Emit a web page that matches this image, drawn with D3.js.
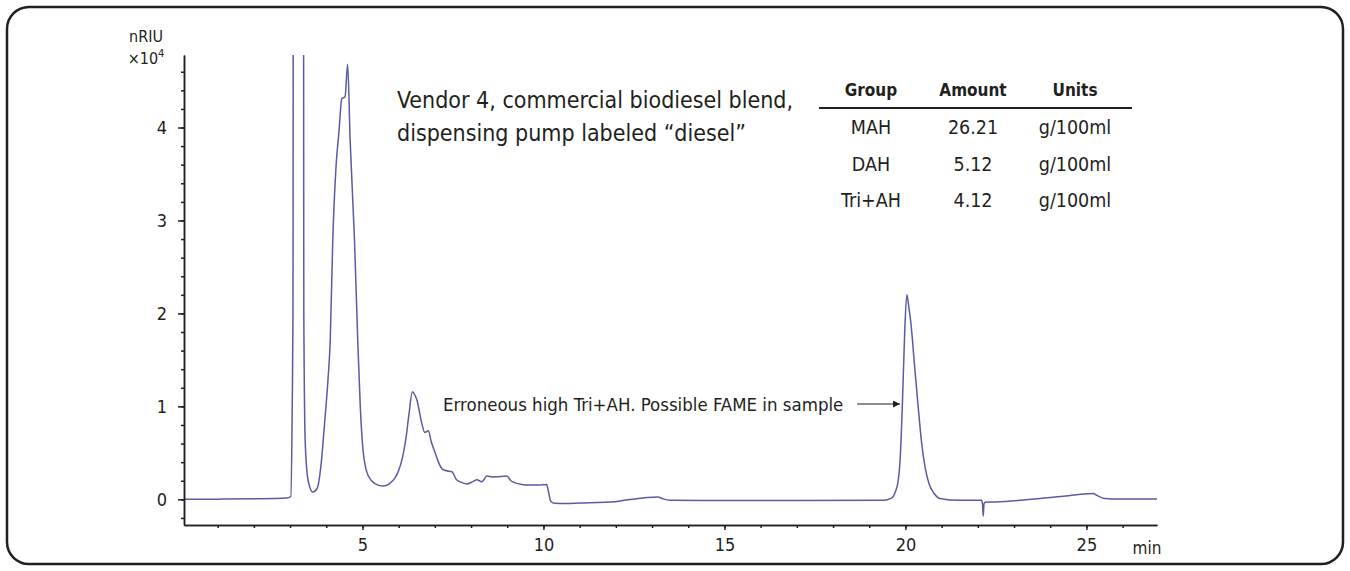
<!DOCTYPE html>
<html>
<head>
<meta charset="utf-8">
<script src="https://cdn.jsdelivr.net/npm/d3@7"></script>
<style>
  body { margin: 0; background: #fff; }
  svg text { font-family: "Liberation Sans Narrow", "DejaVu Sans Condensed", "Roboto", sans-serif; fill: #231f20; }
</style>
</head>
<body>
<svg id="chart" width="1350" height="571"></svg>
<script>
// retention time (min) and detector signal (nRIU x10^4)
const time = [
  0.07, 1.0, 2.0, 2.9, 3.02, 3.06, 3.08, 3.10, 3.36, 3.38, 3.42, 3.5, 3.63, 3.75, 3.85, 3.95,
  4.05, 4.11, 4.18, 4.27, 4.35, 4.43, 4.52, 4.59, 4.66, 4.78, 4.87, 4.94, 5.0, 5.1, 5.25, 5.45,
  5.58, 5.75, 5.9, 6.0, 6.1, 6.2, 6.28, 6.38, 6.45, 6.5, 6.64, 6.72, 6.82, 6.9, 7.0, 7.1,
  7.19, 7.3, 7.47, 7.6, 7.75, 7.88, 8.05, 8.16, 8.3, 8.44, 8.6, 8.72, 8.99, 9.1, 9.2, 9.4,
  9.6, 9.9, 10.09, 10.13, 10.2, 10.32, 10.6, 11.0, 11.98, 12.34, 13.16, 13.3, 13.52, 15.0, 17.0, 19.4,
  19.6, 19.72, 19.8, 19.85, 19.92, 19.98, 20.04, 20.1, 20.15, 20.25, 20.34, 20.45, 20.55, 20.65, 20.8, 20.95,
  21.5, 22.1, 22.13, 22.15, 22.17, 22.2, 22.5, 23.34, 24.3, 25.18, 25.3, 25.5, 25.9, 26.95
];
const signal = [
  0.0, 0.002, 0.006, 0.015, 0.03, 1.0, 2.0, 12, 12, 2.0, 0.6, 0.2, 0.078, 0.12, 0.35, 0.8,
  1.3, 1.71, 2.79, 3.58, 3.95, 4.31, 4.33, 4.68, 3.86, 2.79, 1.71, 1.0, 0.6, 0.32, 0.2, 0.15,
  0.143, 0.17, 0.23, 0.31, 0.44, 0.65, 0.9, 1.157, 1.12, 1.075, 0.817, 0.72, 0.738, 0.62, 0.51, 0.4,
  0.333, 0.31, 0.297, 0.21, 0.18, 0.165, 0.19, 0.21, 0.19, 0.25, 0.24, 0.243, 0.25, 0.2, 0.18, 0.16,
  0.154, 0.155, 0.16, 0.1, -0.02, -0.043, -0.045, -0.04, -0.025, -0.005, 0.025, 0.005, -0.01, -0.012, -0.012, -0.01,
  0.01, 0.08, 0.2, 0.4, 1.07, 1.8, 2.2, 2.05, 1.9, 1.45, 1.05, 0.6, 0.33, 0.17, 0.06, 0.01,
  -0.01, -0.01, -0.05, -0.18, -0.05, -0.03, -0.028, -0.005, 0.03, 0.064, 0.04, 0.01, 0.004, 0.004
];

const xMajor = [5, 10, 15, 20, 25];
const xMinor = d3.range(1, 27);
const yMajor = [0, 1, 2, 3, 4];
const yMinor = d3.range(-1, 24).map(i => +(i * 0.2).toFixed(1));

const tableHeader = ["Group", "Amount", "Units"];
const tableRows = [
  ["MAH", "26.21", "g/100ml"],
  ["DAH", "5.12", "g/100ml"],
  ["Tri+AH", "4.12", "g/100ml"]
];

const titleLines = ["Vendor 4, commercial biodiesel blend,", "dispensing pump labeled \u201cdiesel\u201d"];
const note = "Erroneous high Tri+AH. Possible FAME in sample";

const svg = d3.select("#chart");
const ink = "#231f20";
const traceColor = "#5a5aa5";

// rounded frame
svg.append("rect")
  .attr("x", 7).attr("y", 7)
  .attr("width", 1336).attr("height", 557)
  .attr("rx", 22).attr("ry", 22)
  .attr("fill", "none")
  .attr("stroke", ink)
  .attr("stroke-width", 2.5);

const x = d3.scaleLinear().domain([0.07, 26.95]).range([184, 1157]);
const y = d3.scaleLinear().domain([-0.276, 4.78]).range([525, 55]);

// clip so the off-scale peak stops at the axis top
svg.append("clipPath").attr("id", "plot-clip")
  .append("rect")
  .attr("x", 184).attr("y", 55)
  .attr("width", 975).attr("height", 470);

const line = d3.line()
  .x((d, i) => x(time[i]))
  .y(d => y(d))
  .curve(d3.curveMonotoneX);

svg.append("path")
  .datum(signal)
  .attr("clip-path", "url(#plot-clip)")
  .attr("d", line)
  .attr("fill", "none")
  .attr("stroke", traceColor)
  .attr("stroke-width", 1.5)
  .attr("stroke-linejoin", "round");

// y axis: minor then major
const yMinorAxis = svg.append("g")
  .attr("transform", "translate(184,0)")
  .call(d3.axisLeft(y).tickValues(yMinor).tickSize(3).tickSizeOuter(0).tickFormat(""));
const yMajorAxis = svg.append("g")
  .attr("transform", "translate(184,0)")
  .call(d3.axisLeft(y).tickValues(yMajor).tickSize(6).tickSizeOuter(0).tickPadding(11).tickFormat(d3.format("d")));

// x axis
const xMinorAxis = svg.append("g")
  .attr("transform", "translate(0,525)")
  .call(d3.axisBottom(x).tickValues(xMinor).tickSize(3).tickSizeOuter(0).tickFormat(""));
const xMajorAxis = svg.append("g")
  .attr("transform", "translate(0,525)")
  .call(d3.axisBottom(x).tickValues(xMajor).tickSize(5).tickSizeOuter(0).tickPadding(8).tickFormat(d3.format("d")));

[yMinorAxis, yMajorAxis, xMinorAxis, xMajorAxis].forEach(g => {
  g.selectAll("path, line").attr("stroke", ink).attr("stroke-width", 1.5);
  g.selectAll("text").attr("font-size", 18).attr("fill", ink)
    .style("font-family", null);
});

svg.append("text")
  .attr("x", 1147).attr("y", 554)
  .attr("text-anchor", "middle")
  .attr("font-size", 17)
  .text("min");

svg.append("text")
  .attr("x", 146).attr("y", 42)
  .attr("text-anchor", "middle")
  .attr("font-size", 16)
  .text("nRIU");

const unit = svg.append("text")
  .attr("x", 146).attr("y", 64)
  .attr("text-anchor", "middle")
  .attr("font-size", 16);
unit.append("tspan").text("\u00d710");
unit.append("tspan").attr("dy", -7).attr("font-size", 11).text("4");

// title
svg.selectAll(".title")
  .data(titleLines)
  .join("text")
  .attr("class", "title")
  .attr("x", 397)
  .attr("y", (d, i) => 108 + i * 33)
  .attr("font-size", 23)
  .text(d => d);

// table
const colX = [871, 973, 1075];
svg.selectAll(".th")
  .data(tableHeader)
  .join("text")
  .attr("class", "th")
  .attr("x", (d, i) => colX[i])
  .attr("y", 96)
  .attr("text-anchor", "middle")
  .attr("font-size", 17)
  .attr("font-weight", "bold")
  .text(d => d);

svg.append("line")
  .attr("x1", 819).attr("x2", 1132)
  .attr("y1", 108).attr("y2", 108)
  .attr("stroke", ink)
  .attr("stroke-width", 2);

tableRows.forEach((row, r) => {
  svg.selectAll(".row" + r)
    .data(row)
    .join("text")
    .attr("class", "row" + r)
    .attr("x", (d, i) => colX[i])
    .attr("y", 134 + r * 36.5)
    .attr("text-anchor", "middle")
    .attr("font-size", 19.5)
    .text(d => d);
});

// annotation with arrow
svg.append("defs").append("marker")
  .attr("id", "arrow")
  .attr("viewBox", "0 0 10 10")
  .attr("refX", 10).attr("refY", 5)
  .attr("markerWidth", 10).attr("markerHeight", 7)
  .attr("markerUnits", "userSpaceOnUse")
  .attr("orient", "auto")
  .append("path")
  .attr("d", "M0,0 L10,5 L0,10 Z")
  .attr("fill", ink);

svg.append("text")
  .attr("x", 443).attr("y", 411)
  .attr("font-size", 18.5)
  .text(note);

svg.append("line")
  .attr("x1", 857).attr("x2", 900)
  .attr("y1", 404).attr("y2", 404)
  .attr("stroke", ink)
  .attr("stroke-width", 1.2)
  .attr("marker-end", "url(#arrow)");
</script>
</body>
</html>
